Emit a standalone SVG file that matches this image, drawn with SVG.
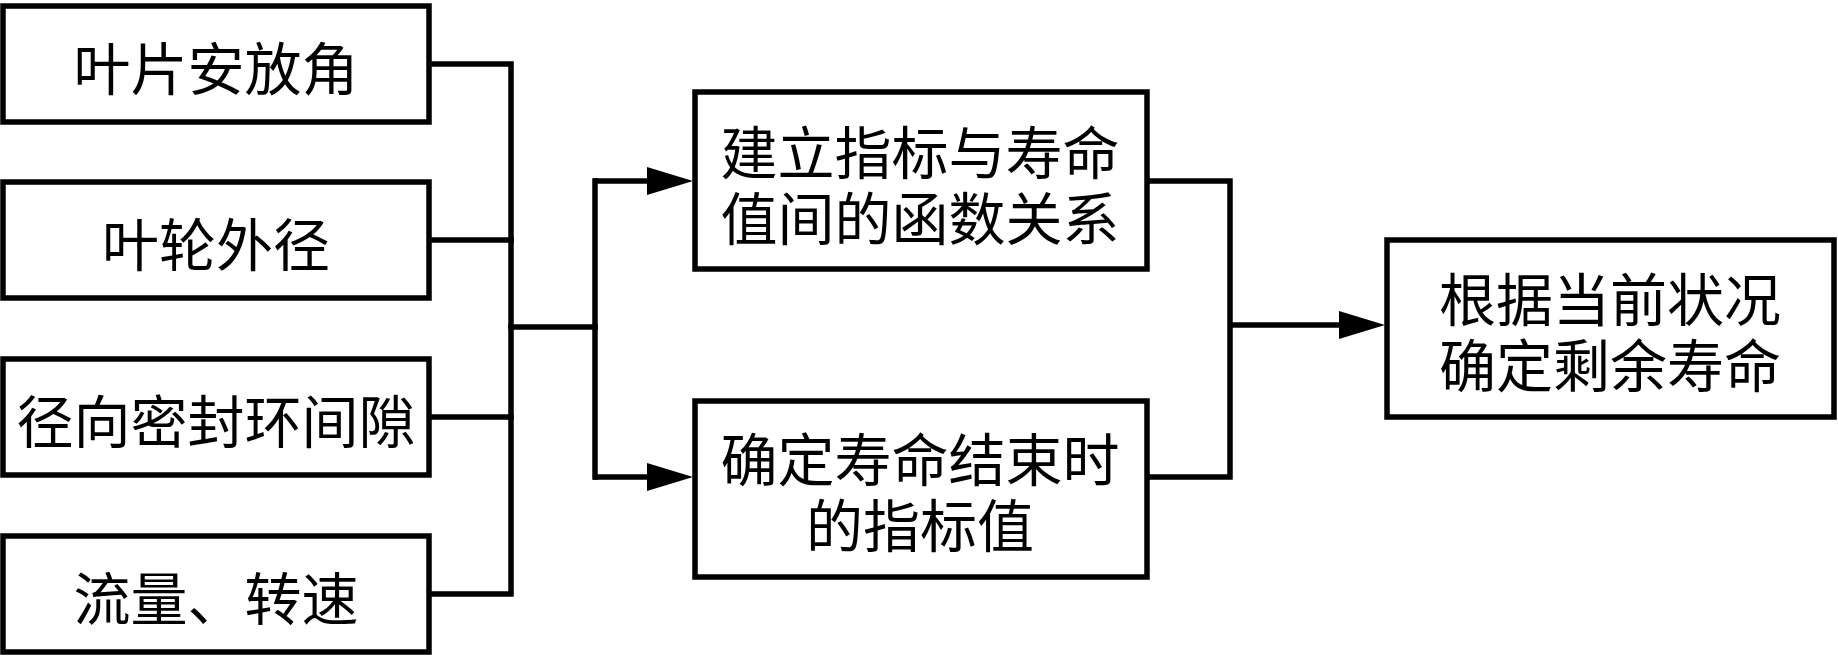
<svg xmlns="http://www.w3.org/2000/svg" width="1838" height="659" viewBox="0 0 1838 659">
<style>
.box{fill:#fff;stroke:#000;stroke-width:5.5}
.ln{fill:none;stroke:#000;stroke-width:5.5;stroke-linecap:square;stroke-linejoin:miter}
.ar{fill:none;stroke:#000;stroke-width:5.5;stroke-linecap:butt}
text{font-family:"Noto Sans CJK SC","Noto Sans CJK JP",sans-serif;font-size:57px;fill:#000;text-anchor:middle;dominant-baseline:central}
</style>
<defs>
<marker id="arr" markerUnits="userSpaceOnUse" markerWidth="46" markerHeight="28" refX="0" refY="14" orient="auto" viewBox="0 0 46 28">
<path d="M0,0 L46,14 L0,28 z" fill="#000"/>
</marker>
</defs>
<rect width="1838" height="659" fill="#fff"/>
<g id="connectors">
<path class="ln" d="M432,64 H511 V594 H432"/>
<path class="ln" d="M432,240 H511"/>
<path class="ln" d="M432,417 H511"/>
<path class="ln" d="M511,327 H595"/>
<path class="ln" d="M595,181 V477"/>
<path class="ar" d="M593,181 H647" marker-end="url(#arr)"/>
<path class="ar" d="M593,477 H647" marker-end="url(#arr)"/>
<path class="ln" d="M1150,181 H1230 V477 H1150"/>
<path class="ar" d="M1230,325 H1339" marker-end="url(#arr)"/>
</g>
<g id="n1"><rect class="box" x="3" y="6" width="426" height="116"/><text x="216" y="65">叶片安放角</text></g>
<g id="n2"><rect class="box" x="3" y="182" width="426" height="116"/><text x="216" y="241">叶轮外径</text></g>
<g id="n3"><rect class="box" x="3" y="359" width="426" height="116"/><text x="216" y="418">径向密封环间隙</text></g>
<g id="n4"><rect class="box" x="3" y="536" width="426" height="116"/><text x="216" y="595">流量、转速</text></g>
<g id="n5"><rect class="box" x="695" y="92" width="452" height="177"/><text><tspan x="920" y="149">建立指标与寿命</tspan><tspan x="920" y="215">值间的函数关系</tspan></text></g>
<g id="n6"><rect class="box" x="695" y="401" width="452" height="176"/><text><tspan x="920" y="456">确定寿命结束时</tspan><tspan x="920" y="522">的指标值</tspan></text></g>
<g id="n7"><rect class="box" x="1387" y="240" width="447" height="177"/><text><tspan x="1610" y="296">根据当前状况</tspan><tspan x="1610" y="362">确定剩余寿命</tspan></text></g>
</svg>
